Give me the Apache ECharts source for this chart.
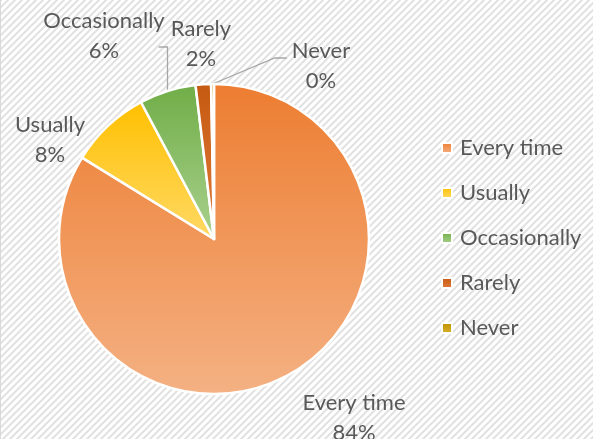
<!DOCTYPE html>
<html>
<head>
<meta charset="utf-8">
<script src="https://cdn.jsdelivr.net/npm/echarts@6/dist/echarts.min.js"></script>
<style>
html,body{margin:0;padding:0;background:#fff;}
#c{width:593px;height:439px;box-sizing:border-box;border-left:1px solid #d9d9d9;}
</style>
</head>
<body>
<div id="c"></div>
<script>
const categories = ['Every time', 'Usually', 'Occasionally', 'Rarely', 'Never'];
const values = [83.8, 8.4, 5.9, 1.6, 0.3];
const topColors = ['#ED7D31', '#FFC000', '#70AD47', '#C55A11', '#BF9000'];
const bottomColors = ['#F4B183', '#FFD966', '#A9D18E', '#E07A3A', '#D9B230'];
const showLeader = [false, false, true, false, true];
const labelCenters = [[353, 418], [49, 140], [103, 36], [200, 44], [320, 66]];

function grad(i){
  return new echarts.graphic.LinearGradient(0,0,0,1,[
    {offset:0,color:topColors[i]},{offset:1,color:bottomColors[i]}]);
}

// hatch pattern
const pc = document.createElement('canvas');
pc.width = 7; pc.height = 7;
const g = pc.getContext('2d');
g.fillStyle = '#ffffff'; g.fillRect(0,0,7,7);
g.strokeStyle = '#e2e2e2'; g.lineWidth = 2;
g.beginPath();
g.moveTo(-1,8); g.lineTo(8,-1);
g.moveTo(-4.5,4.5); g.lineTo(4.5,-4.5);
g.moveTo(2.5,11.5); g.lineTo(11.5,2.5);
g.stroke();

const font = 'Lato, "Noto Sans", sans-serif';
const chart = echarts.init(document.getElementById('c'));
chart.setOption({
  backgroundColor: {image: pc, repeat: 'repeat'},
  animation: false,
  legend: {
    orient: 'vertical',
    left: 440,
    top: 136,
    padding: 0,
    itemWidth: 10,
    itemHeight: 10,
    itemGap: 21,
    icon: 'rect',
    textStyle: {fontFamily: font, fontSize: 22, color: '#595959', lineHeight: 24, padding:[0,0,0,3]},
    data: categories
  },
  series: [{
    type: 'pie',
    center: [213, 239],
    radius: 155,
    startAngle: 90,
    clockwise: true,
    avoidLabelOverlap: false,
    itemStyle: {borderColor: '#ffffff', borderWidth: 2.5},
    label: {
      show: true,
      position: 'outside',
      formatter: p => p.name + '\n' + p.percent + '%',
      fontFamily: font,
      fontSize: 22,
      lineHeight: 30,
      color: '#595959',
      align: 'center'
    },
    percentPrecision: 0,
    labelLine: {show: true, lineStyle: {color: '#a6a6a6', width: 1.3}},
    labelLayout: function (params) {
      const i = params.dataIndex;
      const c = labelCenters[i];
      const w = params.labelRect.width;
      const res = {x: c[0], y: c[1], align: 'center', verticalAlign: 'middle'};
      if (showLeader[i] && params.labelLinePoints) {
        const p0 = params.labelLinePoints[0];
        if (i === 2) {
          res.labelLinePoints = [p0, [p0[0], c[1] + 11], [c[0] + w / 2 - 6, c[1] + 11]];
        } else {
          res.labelLinePoints = [p0, [c[0] - w / 2 - 17, c[1] - 8], [c[0] - w / 2 - 5, c[1] - 8]];
        }
      }
      return res;
    },
    data: categories.map((n, i) => ({
      name: n,
      value: values[i],
      itemStyle: {color: grad(i)},
      labelLine: {show: showLeader[i]}
    }))
  }]
});
</script>
</body>
</html>
